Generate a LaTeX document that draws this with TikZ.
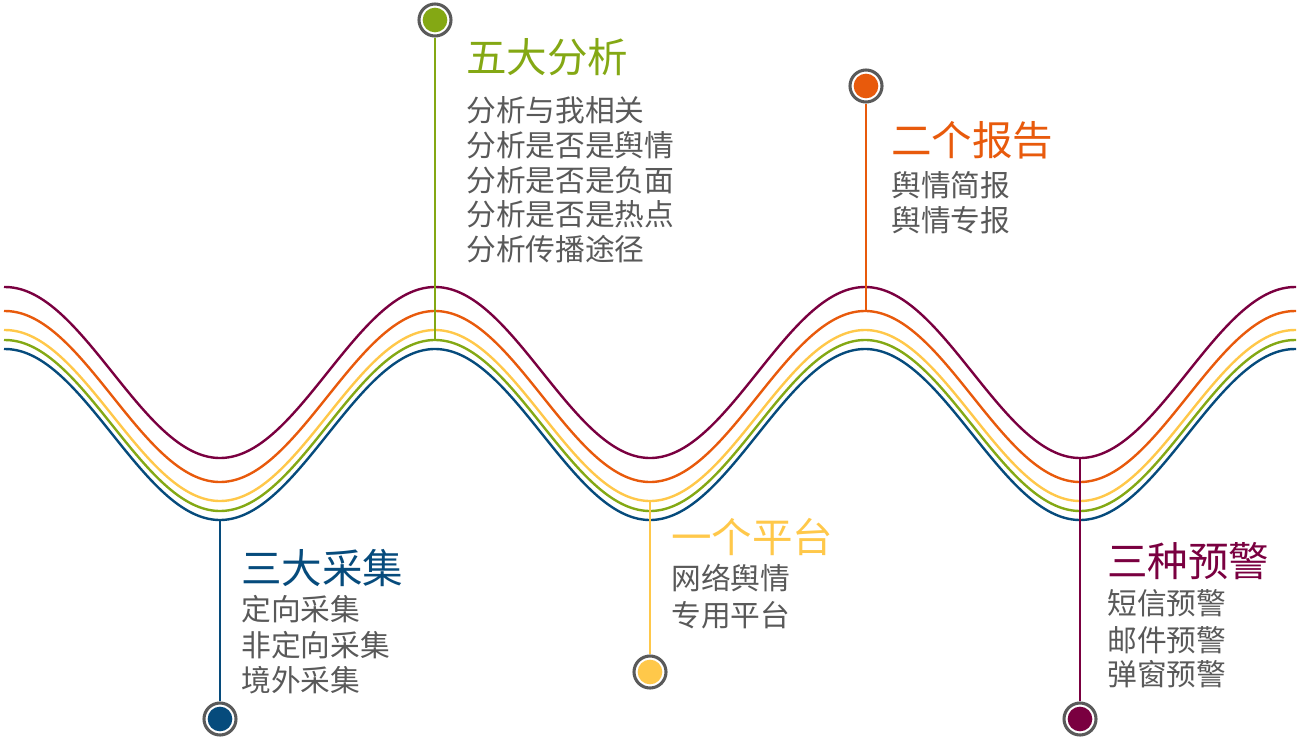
\documentclass[tikz,border=0pt]{standalone}
\usepackage{fontspec}
\newfontfamily\cjk{Noto Sans CJK SC}
\definecolor{cpurple}{HTML}{7A0040}
\definecolor{corange}{HTML}{E85A0C}
\definecolor{cyellow}{HTML}{FFC84A}
\definecolor{cgreen}{HTML}{84A814}
\definecolor{cblue}{HTML}{064B7C}
\definecolor{tgray}{HTML}{595959}
\definecolor{rgray}{HTML}{5A5A5A}
\begin{document}
\begin{tikzpicture}[x=0.75pt,y=-0.75pt,
  wave/.style={line width=1.8pt},
  stem/.style={line width=1.8pt},
  ring/.style={circle,draw=rgray,line width=2.3pt,fill=white,minimum size=24pt,inner sep=0pt},
  dot/.style={circle,minimum size=18.5pt,inner sep=0pt},
  head/.style={anchor=west,inner sep=0pt,font=\cjk\fontsize{30.4}{32}\selectfont},
  body/.style={anchor=west,inner sep=0pt,text=tgray,font=\cjk\fontsize{22.3}{26}\selectfont}]
\useasboundingbox (0,0) rectangle (1298,738);
% waves
\foreach \c/\col in {372.5/cpurple,396.5/corange,415.5/cyellow,425.5/cgreen,434.5/cblue}
  \draw[wave,\col] plot[domain=4:1296,samples=260,smooth] (\x,{\c-85.5*cos(0.837209*(\x-435))});
% anchor points on waves
\coordinate (wb) at (220,520);
\coordinate (wg) at (435,340);
\coordinate (wy) at (650,501);
\coordinate (wo) at (866,311);
\coordinate (wp) at (1080,458);
% circles
\node[ring] (cb) at (220,719) {};
\node[ring] (cg) at (435,20) {};
\node[ring] (cy) at (650,672) {};
\node[ring] (co) at (866,86) {};
\node[ring] (cp) at (1080,719) {};
% stems
\draw[stem,cblue] (cb) -- (wb);
\draw[stem,cgreen] (cg) -- (wg);
\draw[stem,cyellow] (cy) -- (wy);
\draw[stem,corange] (co) -- (wo);
\draw[stem,cpurple] (cp) -- (wp);
% dots
\node[dot,fill=cblue] (db) at (cb) {};
\node[dot,fill=cgreen] (dg) at (cg) {};
\node[dot,fill=cyellow] (dy) at (cy) {};
\node[dot,fill=corange] (do) at (co) {};
\node[dot,fill=cpurple] (dp) at (cp) {};
% green texts
\node[head,text=cgreen] (hg) at (466,57.5) {五大分析};
\node[body] (g1) at (466,110) {分析与我相关};
\node[body] (g2) at (466,145) {分析是否是舆情};
\node[body] (g3) at (466,180) {分析是否是负面};
\node[body] (g4) at (466,214) {分析是否是热点};
\node[body] (g5) at (466,249) {分析传播途径};
% orange texts
\node[head,text=corange] (ho) at (891,140) {二个报告};
\node[body] (o1) at (891,185) {舆情简报};
\node[body] (o2) at (891,220) {舆情专报};
% yellow texts
\node[head,text=cyellow] (hy) at (671,537) {一个平台};
\node[body] (y1) at (671,578) {网络舆情};
\node[body] (y2) at (671,615) {专用平台};
% blue texts
\node[head,text=cblue] (hb) at (241,568) {三大采集};
\node[body] (b1) at (241,609) {定向采集};
\node[body] (b2) at (241,645) {非定向采集};
\node[body] (b3) at (241,680) {境外采集};
% purple texts
\node[head,text=cpurple] (hp) at (1107,561) {三种预警};
\node[body] (p1) at (1107,603) {短信预警};
\node[body] (p2) at (1107,640) {邮件预警};
\node[body] (p3) at (1107,674) {弹窗预警};
\end{tikzpicture}
\end{document}
